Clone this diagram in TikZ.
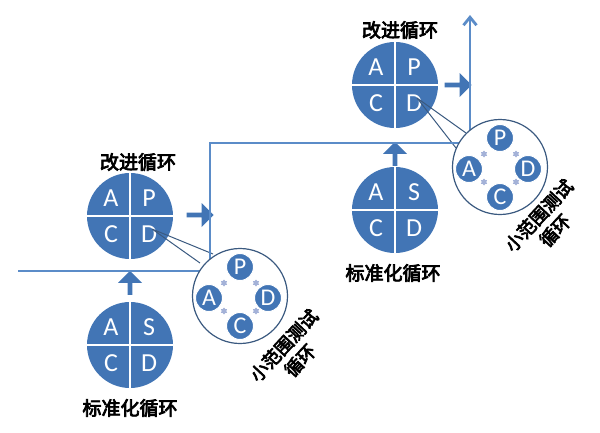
\documentclass[tikz,border=0pt]{standalone}
\usepackage{fontspec}
\setmainfont{Carlito}
\newfontfamily\cjk{Noto Sans CJK SC}[AutoFakeBold=4]
\usetikzlibrary{shapes.arrows,shapes.geometric,calc,arrows.meta}
\definecolor{bl}{HTML}{4275B5}
\definecolor{ln}{HTML}{5B8CC8}
\definecolor{dk}{HTML}{3B5A80}
\definecolor{st}{HTML}{A4B2D8}
\tikzset{
 big/.style={circle,fill=bl,minimum size=86pt,inner sep=0pt},
 let/.style={text=white,font=\fontsize{26}{26}\selectfont},
 sm/.style={circle,fill=bl,draw=white,line width=1pt,minimum size=27pt,inner sep=0pt,text=white,font=\fontsize{24}{24}\selectfont},
 ring/.style={circle,draw=dk,line width=1.2pt,fill=white,minimum size=95pt,inner sep=0pt},
 ttl/.style={font=\cjk\bfseries\fontsize{19}{21}\selectfont},
 rot/.style={font=\cjk\bfseries\fontsize{18}{22}\selectfont,rotate=47,align=center},
 uparr/.style={single arrow,fill=bl,draw=none,minimum height=24pt,single arrow head extend=5pt,minimum width=24pt,inner sep=1pt,shape border rotate=90},
 rarr/.style={single arrow,fill=bl,draw=none,minimum height=27pt,single arrow head extend=5pt,minimum width=24pt,inner sep=1pt},
 dot/.style={star,star points=6,fill=st,minimum size=7pt,inner sep=0pt},
 tie/.style={draw=dk,line width=1pt},
}
\newcommand\bigc[7]{%
 \node[big] (#1) at (#2,#3) {};
 \draw[white,line width=1.2pt] (#1.north)--(#1.south) (#1.west)--(#1.east);
 \node[let] at ($(#1)+(-19,-18)$) {#4};
 \node[let] at ($(#1)+(19,-18)$) {#5};
 \node[let] at ($(#1)+(-19,18)$) {#6};
 \node[let] at ($(#1)+(19,18)$) {#7};}
\newcommand\smallc[3]{%
 \node[ring] (#1) at (#2,#3) {};
 \node[sm] (#1p) at ($(#1)+(0,-29)$) {P};
 \node[sm] (#1a) at ($(#1)+(-31,2)$) {A};
 \node[sm] (#1d) at ($(#1)+(28,2)$) {D};
 \node[sm] (#1c) at ($(#1)+(0,30)$) {C};
 \node[dot] at ($(#1)+(-16,-13)$) {};
 \node[dot] at ($(#1)+(16,-13)$) {};
 \node[dot] at ($(#1)+(-16,15)$) {};
 \node[dot] at ($(#1)+(16,15)$) {};}
\begin{document}
\begin{tikzpicture}[x=1pt,y=-1pt]
\useasboundingbox (0,0) rectangle (600,432);
\coordinate (s0) at (18,271);
\coordinate (s1) at (210,271);
\coordinate (s2) at (210,143);
\coordinate (s3) at (470,143);
\coordinate (s4) at (470,15);
% left group
\bigc{ls}{130}{345}{A}{S}{C}{D}
\bigc{li}{130}{216}{A}{P}{C}{D}
\node[ttl] (lst) at (130,408) {标准化循环};
\node[ttl] (lit) at (138,162) {改进循环};
\node[uparr] (lu) at (130,284) {};
\node[rarr] (lr) at (199,215) {};
% right group
\bigc{rs}{395}{210}{A}{S}{C}{D}
\bigc{ri}{395}{85}{A}{P}{C}{D}
\node[ttl] (rst) at (393,273) {标准化循环};
\node[ttl] (rit) at (400,30) {改进循环};
\node[uparr] (ru) at (395,155) {};
\node[rarr] (rr) at (457,85) {};
% ties
\coordinate (ld) at (152,229);
\coordinate (rd) at (417,98);
\draw[tie] (ld)--(200,263) (ld)--(213,254);
\draw[tie] (rd)--(456,148) (rd)--(466,133);
\draw[ln,line width=2.8pt,-{Straight Barb[length=8pt,width=13pt]}] (s0)--(s1)--(s2)--(s3)--(s4);
\smallc{lsm}{240}{296}
\smallc{rsm}{500}{167}
\node[rot] (lrt) at (292,353) {小范围测试\\循环};
\node[rot] (rrt) at (547,223) {小范围测试\\循环};
\end{tikzpicture}
\end{document}
